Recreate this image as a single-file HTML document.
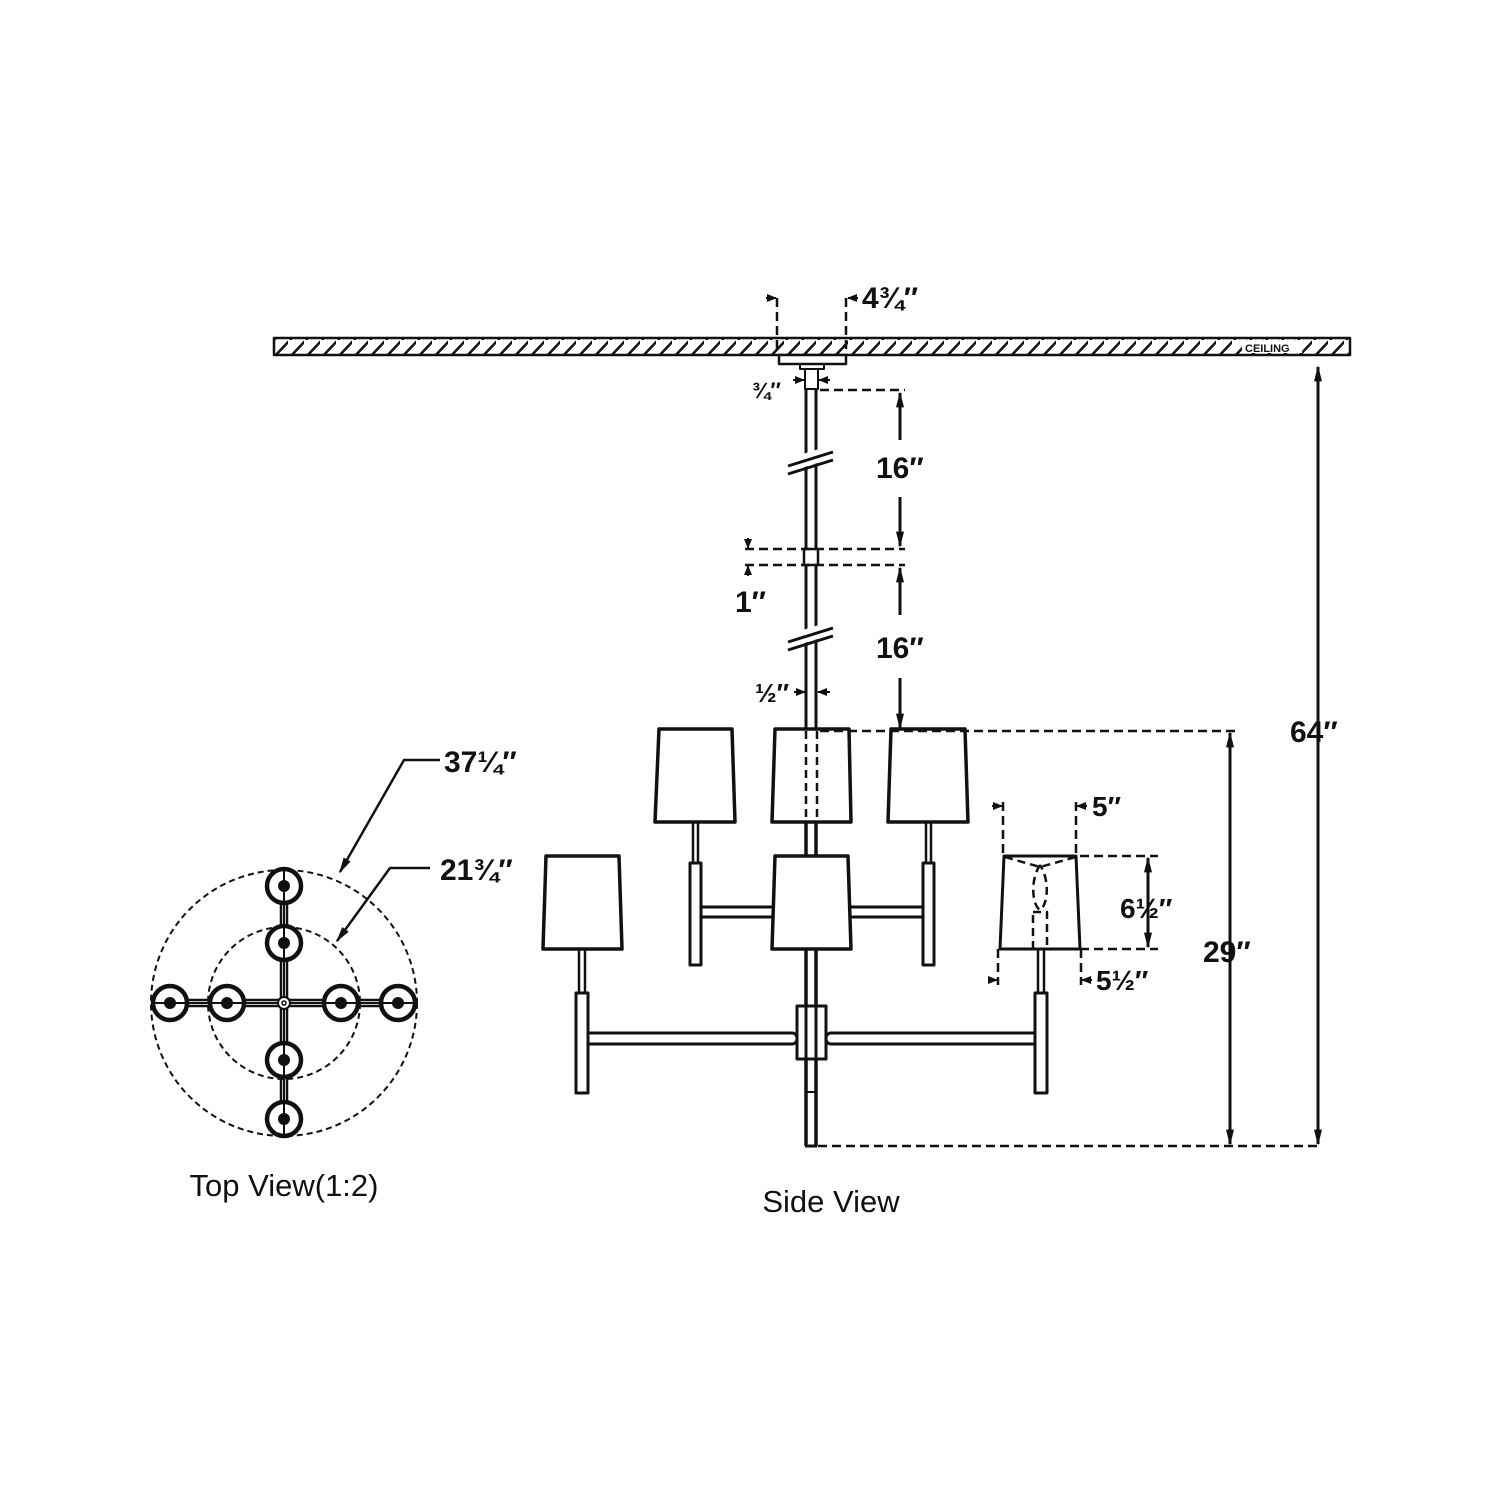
<!DOCTYPE html>
<html><head><meta charset="utf-8"><style>
html,body{margin:0;padding:0;background:#fff}
svg{display:block}
text{font-family:"Liberation Sans",sans-serif;fill:#111}
.b{font-weight:bold}
</style></head><body>
<svg width="1500" height="1500" viewBox="0 0 1500 1500" xmlns="http://www.w3.org/2000/svg">
<defs>
<pattern id="h" width="16" height="17" patternUnits="userSpaceOnUse">
<line x1="2" y1="17" x2="18" y2="0" stroke="#111" stroke-width="2.5"/>
</pattern>
<marker id="a" viewBox="0 0 10 10" refX="9" refY="5" markerWidth="16" markerHeight="16" markerUnits="userSpaceOnUse" orient="auto-start-reverse"><path d="M0,2.5 L10,5 L0,7.5 z" fill="#111"/></marker>
<marker id="s" viewBox="0 0 10 10" refX="9" refY="5" markerWidth="10" markerHeight="10" markerUnits="userSpaceOnUse" orient="auto-start-reverse"><path d="M0,1 L10,5 L0,9 z" fill="#111"/></marker>
</defs>
<g stroke="#111" fill="none" stroke-linejoin="round">
<rect x="274" y="338" width="1076" height="17" fill="url(#h)" stroke-width="2.5"/>
<rect x="1242" y="341" width="60" height="12" fill="#fff" stroke="none"/>
<rect x="779" y="355" width="67" height="9" fill="#fff" stroke-width="2.5"/>
<rect x="800" y="364" width="24" height="5" stroke-width="2"/>
<rect x="805" y="369" width="13" height="20" stroke-width="2"/>
<line x1="806" y1="389" x2="806" y2="728" stroke-width="3"/>
<line x1="816" y1="389" x2="816" y2="728" stroke-width="3"/>
<rect x="804" y="549" width="14" height="16" fill="#fff" stroke-width="2.5"/>
<rect x="790" y="452" width="40" height="13" fill="#fff" stroke="none" transform="rotate(-17 810 458)"/>
<line x1="788" y1="466" x2="833" y2="452" stroke-width="3"/>
<line x1="788" y1="474" x2="833" y2="460" stroke-width="3"/>
<rect x="790" y="628" width="40" height="13" fill="#fff" stroke="none" transform="rotate(-17 810 634)"/>
<line x1="788" y1="642" x2="833" y2="628" stroke-width="3"/>
<line x1="788" y1="650" x2="833" y2="636" stroke-width="3"/>
<line x1="806" y1="822" x2="806" y2="1146" stroke-width="3.5"/>
<line x1="816" y1="822" x2="816" y2="1146" stroke-width="3.5"/>
<line x1="805" y1="1146" x2="817" y2="1146" stroke-width="3"/>
<line x1="806" y1="1092" x2="816" y2="1092" stroke-width="2"/>
<rect x="797" y="1006" width="29" height="53" fill="#fff" stroke-width="3"/>
<line x1="806" y1="1006" x2="806" y2="1059" stroke-width="3"/>
<line x1="816" y1="1006" x2="816" y2="1059" stroke-width="3"/>
<rect x="695" y="907" width="233" height="10" rx="5" fill="#fff" stroke-width="3"/>
<rect x="690" y="863" width="11" height="102" fill="#fff" stroke-width="3"/>
<rect x="923" y="863" width="11" height="102" fill="#fff" stroke-width="3"/>
<line x1="693" y1="822" x2="693" y2="863" stroke-width="2.5"/><line x1="698" y1="822" x2="698" y2="863" stroke-width="2.5"/>
<line x1="926" y1="822" x2="926" y2="863" stroke-width="2.5"/><line x1="931" y1="822" x2="931" y2="863" stroke-width="2.5"/>
<rect x="583" y="1033" width="214" height="11" rx="5" fill="#fff" stroke-width="3"/>
<rect x="826" y="1033" width="215" height="11" rx="5" fill="#fff" stroke-width="3"/>
<rect x="576" y="993" width="12" height="100" fill="#fff" stroke-width="3"/>
<rect x="1035" y="993" width="12" height="100" fill="#fff" stroke-width="3"/>
<line x1="579" y1="949" x2="579" y2="993" stroke-width="2.5"/><line x1="585" y1="949" x2="585" y2="993" stroke-width="2.5"/>
<line x1="1038" y1="949" x2="1038" y2="993" stroke-width="2.5"/><line x1="1044" y1="949" x2="1044" y2="993" stroke-width="2.5"/>
<path d="M659,729 L732,729 L735,822 L655,822 Z" fill="#fff" stroke-width="3.5"/>
<path d="M775,729 L849,729 L851,822 L772,822 Z" fill="#fff" stroke-width="3.5"/>
<path d="M891,729 L965,729 L968,822 L888,822 Z" fill="#fff" stroke-width="3.5"/>
<path d="M546,856 L619,856 L622,949 L543,949 Z" fill="#fff" stroke-width="3.5"/>
<path d="M775,856 L848,856 L851,949 L772,949 Z" fill="#fff" stroke-width="3.5"/>
<path d="M1004,856 L1076,856 L1080,949 L1000,949 Z" fill="#fff" stroke-width="3"/>
<g stroke-dasharray="8,5" stroke-width="2.5">
<line x1="806" y1="731" x2="806" y2="820"/><line x1="817" y1="731" x2="817" y2="820"/>
<path d="M1005,857 L1040,867 L1076,857"/>
<path d="M1040,865 C1030,880 1032,905 1040,910 C1048,905 1050,880 1040,865"/>
<rect x="1033" y="912" width="14" height="37"/>
</g>
<g stroke-dasharray="9,5" stroke-width="2.5">
<line x1="777" y1="298" x2="777" y2="355"/><line x1="846" y1="298" x2="846" y2="355"/>
<line x1="820" y1="390" x2="905" y2="390"/>
<line x1="745" y1="549" x2="905" y2="549"/><line x1="745" y1="565" x2="905" y2="565"/>
<line x1="820" y1="731" x2="1240" y2="731"/>
<line x1="818" y1="1146" x2="1320" y2="1146"/>
<line x1="1003" y1="802" x2="1003" y2="856"/><line x1="1076" y1="802" x2="1076" y2="856"/>
<line x1="1080" y1="856" x2="1158" y2="856"/><line x1="1080" y1="949" x2="1158" y2="949"/>
<line x1="998" y1="949" x2="998" y2="985"/><line x1="1081" y1="949" x2="1081" y2="985"/>
</g>
<g stroke-width="3">
<line x1="1318" y1="367" x2="1318" y2="1144" marker-start="url(#a)" marker-end="url(#a)"/>
<line x1="1230" y1="733" x2="1230" y2="1144" marker-start="url(#a)" marker-end="url(#a)"/>
<line x1="900" y1="440" x2="900" y2="393" marker-end="url(#a)"/>
<line x1="900" y1="497" x2="900" y2="546" marker-end="url(#a)"/>
<line x1="900" y1="615" x2="900" y2="568" marker-end="url(#a)"/>
<line x1="900" y1="678" x2="900" y2="728" marker-end="url(#a)"/>
<line x1="1148" y1="858" x2="1148" y2="947" marker-start="url(#a)" marker-end="url(#a)"/>
</g>
<g stroke-width="2">
<line x1="766" y1="298" x2="776" y2="298" marker-end="url(#s)"/>
<line x1="858" y1="298" x2="848" y2="298" marker-end="url(#s)"/>
<line x1="793" y1="380" x2="804" y2="380" marker-end="url(#s)"/>
<line x1="830" y1="380" x2="819" y2="380" marker-end="url(#s)"/>
<line x1="748" y1="538" x2="748" y2="548" marker-end="url(#s)"/>
<line x1="748" y1="576" x2="748" y2="566" marker-end="url(#s)"/>
<line x1="794" y1="692" x2="805" y2="692" marker-end="url(#s)"/>
<line x1="830" y1="692" x2="818" y2="692" marker-end="url(#s)"/>
<line x1="992" y1="806" x2="1002" y2="806" marker-end="url(#s)"/>
<line x1="1087" y1="806" x2="1077" y2="806" marker-end="url(#s)"/>
<line x1="988" y1="980" x2="997" y2="980" marker-end="url(#s)"/>
<line x1="1092" y1="980" x2="1082" y2="980" marker-end="url(#s)"/>
</g>
<g stroke-dasharray="6,4" stroke-width="2">
<circle cx="284" cy="1003" r="133"/>
<circle cx="284" cy="1003" r="76"/>
</g>
<g stroke-width="2.5">
<line x1="281" y1="868" x2="281" y2="1138"/><line x1="287" y1="868" x2="287" y2="1138"/>
<line x1="152" y1="1000" x2="416" y2="1000"/><line x1="152" y1="1006" x2="416" y2="1006"/>
</g>
<g stroke-width="4.5" fill="#fff">
<circle cx="284" cy="886" r="17"/><circle cx="284" cy="943" r="17"/>
<circle cx="284" cy="1060" r="17"/><circle cx="284" cy="1119" r="17"/>
<circle cx="170" cy="1003" r="17"/><circle cx="227" cy="1003" r="17"/>
<circle cx="341" cy="1003" r="17"/><circle cx="398" cy="1003" r="17"/>
</g>
<g stroke-width="2"><line x1="284" y1="870" x2="284" y2="1136"/><line x1="154" y1="1003" x2="414" y2="1003"/></g>
<g fill="#111" stroke="none">
<circle cx="284" cy="886" r="6"/><circle cx="284" cy="943" r="6"/>
<circle cx="284" cy="1060" r="6"/><circle cx="284" cy="1119" r="6"/>
<circle cx="170" cy="1003" r="6"/><circle cx="227" cy="1003" r="6"/>
<circle cx="341" cy="1003" r="6"/><circle cx="398" cy="1003" r="6"/>
</g>
<circle cx="284" cy="1003" r="6" fill="#fff" stroke-width="2"/>
<circle cx="284" cy="1003" r="2" stroke-width="1.5"/>
<g stroke-width="2.5">
<polyline points="440,760 404,760 340,872" marker-end="url(#a)"/>
<polyline points="430,868 390,868 337,941" marker-end="url(#a)"/>
</g>
</g>
<g class="b" font-size="30">
<text x="862" y="308">4¾″</text>
<text x="752" y="398" font-size="22">¾″</text>
<text x="876" y="478">16″</text>
<text x="735" y="612">1″</text>
<text x="876" y="658">16″</text>
<text x="755" y="702" font-size="26">½″</text>
<text x="1290" y="742">64″</text>
<text x="1203" y="962">29″</text>
<text x="1092" y="816" font-size="28">5″</text>
<text x="1120" y="918" font-size="28">6½″</text>
<text x="1096" y="990" font-size="28">5½″</text>
<text x="444" y="772">37¼″</text>
<text x="440" y="880">21¾″</text>
</g>
<text x="1245" y="352" font-size="11" class="b">CEILING</text>
<text x="284" y="1196" font-size="31" text-anchor="middle">Top View(1:2)</text>
<text x="831" y="1212" font-size="31" text-anchor="middle">Side View</text>
</svg>
</body></html>
